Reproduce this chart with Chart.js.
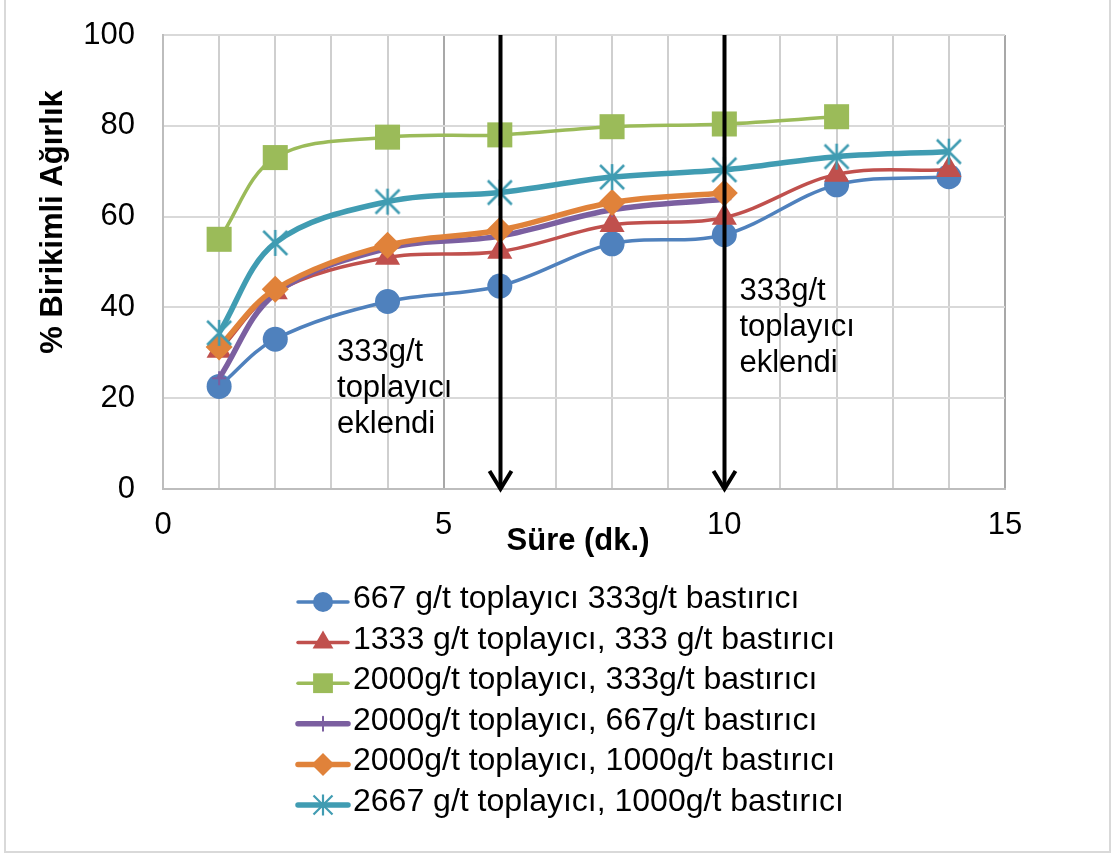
<!DOCTYPE html>
<html>
<head>
<meta charset="utf-8">
<script src="https://cdn.jsdelivr.net/npm/chart.js@4.4.1/dist/chart.umd.min.js"></script>
<style>
    html, body { margin: 0; padding: 0; background: #fff; }
    #wrap { width: 1111px; height: 856px; }
</style>
</head>
<body>
<div id="wrap"><canvas id="chartCanvas" width="1111" height="856"></canvas></div>
<script>
// Süre (dk.) - örnek alma zamanları
const times = [1, 2, 4, 6, 8, 10, 12, 14];

// % birikimli ağırlık, her deney için
const s667_333 = [22.6, 33.0, 41.3, 44.7, 54.0, 56.0, 67.0, 68.8];
const s1333_333 = [30.5, 43.4, 51.0, 52.3, 58.2, 59.8, 69.3, 70.3];
const s2000_333 = [55.0, 73.0, 77.5, 78.0, 79.8, 80.4, 82.0];
const s2000_667 = [24.4, 43.0, 53.0, 55.7, 61.5, 63.8];
const s2000_1000 = [31.3, 44.0, 53.7, 57.0, 63.1, 65.2];
const s2667_1000 = [34.4, 54.2, 63.3, 65.3, 68.7, 70.3, 73.2, 74.3];

const seriesLabels = [
    "667 g/t toplayıcı 333g/t bastırıcı",
    "1333 g/t toplayıcı, 333 g/t bastırıcı",
    "2000g/t toplayıcı, 333g/t bastırıcı",
    "2000g/t toplayıcı, 667g/t bastırıcı",
    "2000g/t toplayıcı, 1000g/t bastırıcı",
    "2667 g/t toplayıcı, 1000g/t bastırıcı"
];

// eksen değerleri
const yTicks = [0, 20, 40, 60, 80, 100];
const xLabelTicks = [0, 5, 10, 15];

// toplayıcı ilave zamanları ve notu
const arrowTimes = [6, 10];
const noteLines = ["333g/t", "toplayıcı", "eklendi"];
const notePos = [{ x: 3.1, y: 28.2 }, { x: 10.27, y: 41.6 }];

const FONT = '"Liberation Sans", Arial, sans-serif';
Chart.defaults.font.family = FONT;
Chart.defaults.color = "#000";

// Excel tarzı yıldız işaretçisi (X + dikey çizgi)
function makeStar(size, arm, lw, color) {
    const c = document.createElement("canvas");
    c.width = size; c.height = size;
    const g = c.getContext("2d");
    const m = size / 2;
    g.strokeStyle = color;
    g.lineWidth = lw;
    g.beginPath();
    g.moveTo(m, m - arm - 1); g.lineTo(m, m + arm + 1);
    g.moveTo(m - arm, m - arm); g.lineTo(m + arm, m + arm);
    g.moveTo(m + arm, m - arm); g.lineTo(m - arm, m + arm);
    g.stroke();
    return c;
}
const tealColor = "#409cb2";
const starBig = makeStar(30, 12, 2.5, tealColor);
const starSmall = makeStar(24, 9.5, 2.2, tealColor);

const styles = [
    { color: "#4f81bd", width: 3.5, point: "circle", r: 12.5, lr: 10, bw: 0 },
    { color: "#c0504d", width: 3.5, point: "triangle", r: 14.5, lr: 12, bw: 0 },
    { color: "#9bbb59", width: 3.5, point: "rect", r: 17.7, lr: 14, bw: 0 },
    { color: "#7b5fa0", width: 5.5, point: "cross", r: 7, lr: 7, bw: 2 },
    { color: "#e0823a", width: 5.5, point: "rectRot", r: 13.5, lr: 11.5, bw: 0 },
    { color: tealColor, width: 5.5, point: starBig, r: 12, lr: 10, bw: 0, legendPoint: starSmall }
];

const seriesValues = [s667_333, s1333_333, s2000_333, s2000_667, s2000_1000, s2667_1000];

const datasets = seriesValues.map((vals, i) => {
    const st = styles[i];
    return {
        label: seriesLabels[i],
        data: vals.map((v, j) => ({ x: times[j], y: v })),
        borderColor: st.color,
        backgroundColor: st.color,
        borderWidth: st.width,
        pointStyle: st.point,
        pointRadius: st.r,
        pointBorderWidth: st.bw,
        pointBorderColor: st.color,
        pointBackgroundColor: st.color,
        tension: 0.35,
        fill: false,
        clip: false,
        order: seriesValues.length - i
    };
});

const decor = {
    id: "decor",
    beforeDraw(chart) {
        const c = chart.ctx;
        c.save();
        c.fillStyle = "#fff";
        c.fillRect(0, 0, chart.width, chart.height);
        c.strokeStyle = "#d9d9d9";
        c.lineWidth = 2;
        c.strokeRect(5, -2, 1105, 854);
        c.restore();
    },
    afterDatasetsDraw(chart) {
        const c = chart.ctx;
        const xs = chart.scales.x, ys = chart.scales.y;
        const area = chart.chartArea;
        c.save();
        // oklar
        c.strokeStyle = "#000";
        c.lineWidth = 4;
        arrowTimes.forEach(t => {
            const px = Math.round(xs.getPixelForValue(t)) + 0.5;
            c.beginPath();
            c.moveTo(px, area.top);
            c.lineTo(px, area.bottom);
            c.stroke();
            c.beginPath();
            c.moveTo(px - 11, area.bottom - 18);
            c.lineTo(px, area.bottom);
            c.lineTo(px + 11, area.bottom - 18);
            c.stroke();
        });
        // notlar
        c.fillStyle = "#000";
        c.font = "31px " + FONT;
        c.textAlign = "left";
        c.textBaseline = "alphabetic";
        notePos.forEach(p => {
            const px = xs.getPixelForValue(p.x);
            const py = ys.getPixelForValue(p.y);
            noteLines.forEach((line, k) => c.fillText(line, px, py + k * 36));
        });
        c.restore();
    },
    afterDraw(chart) {
        const c = chart.ctx;
        c.save();
        // eksen başlıkları
        c.fillStyle = "#000";
        c.font = "bold 31px " + FONT;
        c.textAlign = "center";
        c.textBaseline = "middle";
        c.fillText("Süre (dk.)", 578, 541);
        c.translate(53, 222);
        c.rotate(-Math.PI / 2);
        c.fillText("% Birikimli Ağırlık", 0, 0);
        c.restore();

        // lejant
        c.save();
        styles.forEach((st, i) => {
            const ly = 602 + i * 40.6;
            c.strokeStyle = st.color;
            c.lineWidth = st.width;
            c.lineCap = "round";
            c.beginPath();
            c.moveTo(298, ly);
            c.lineTo(348, ly);
            c.stroke();
            c.fillStyle = st.color;
            c.lineWidth = st.bw;
            Chart.helpers.drawPoint(c, {
                pointStyle: st.legendPoint || st.point,
                radius: st.lr,
                rotation: 0,
                borderWidth: st.bw
            }, 323, ly);
            c.fillStyle = "#000";
            c.font = "32px " + FONT;
            c.textAlign = "left";
            c.textBaseline = "alphabetic";
            c.fillText(seriesLabels[i], 353, ly + 6);
        });
        c.restore();
    }
};

const chart = new Chart(document.getElementById("chartCanvas").getContext("2d"), {
    type: "line",
    data: { datasets: datasets },
    options: {
        responsive: false,
        animation: false,
        layout: { padding: { top: 35, right: 106, left: 0, bottom: 0 } },
        plugins: { legend: { display: false }, tooltip: { enabled: false } },
        scales: {
            x: {
                type: "linear",
                min: 0,
                max: 15,
                afterFit: s => {
                    s.height = 856 - 489;
                    s.paddingLeft = 0;
                    s.paddingRight = 0;
                },
                afterBuildTicks: s => {
                    s.ticks = [];
                    for (let v = 0; v <= 15; v++) s.ticks.push({ value: v });
                },
                ticks: {
                    autoSkip: false,
                    maxRotation: 0,
                    padding: 18,
                    font: { size: 31 },
                    callback: v => xLabelTicks.includes(v) ? String(v) : ""
                },
                grid: {
                    drawTicks: false,
                    lineWidth: 2,
                    color: ctx => (ctx.tick && ctx.tick.value % 5 === 0) ? "#a8a8a8" : "#cfcfcf"
                },
                border: { color: "#bdbdbd", width: 2 }
            },
            y: {
                min: 0,
                max: 100,
                afterFit: s => {
                    s.width = 163;
                    s.paddingTop = 0;
                    s.paddingBottom = 0;
                },
                afterBuildTicks: s => { s.ticks = yTicks.map(v => ({ value: v })); },
                ticks: { padding: 28, font: { size: 31 } },
                grid: { drawTicks: false, lineWidth: 2, color: "#d9d9d9" },
                border: { color: "#bdbdbd", width: 2 }
            }
        }
    },
    plugins: [decor]
});
</script>
</body>
</html>
